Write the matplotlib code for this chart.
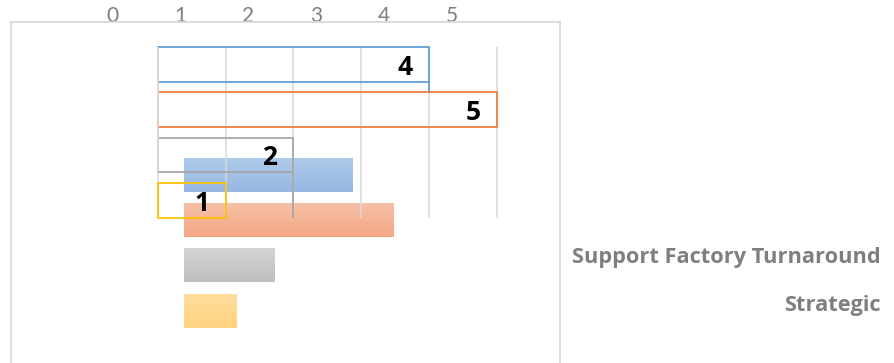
import numpy as np
import matplotlib
matplotlib.use("Agg")
import matplotlib.pyplot as plt
from matplotlib.colors import LinearSegmentedColormap

# ---------------- data ----------------
tick_values = [0, 1, 2, 3, 4, 5]
outline_values = [4, 5, 2, 1]
outline_colors = ["#5b9bd5", "#ed7d31", "#a5a5a5", "#ffc000"]
filled_values = [2.48, 3.09, 1.33, 0.78]
filled_top_colors = ["#aecaeb", "#f6c0a6", "#d4d4d4", "#ffdd9e"]
filled_bottom_colors = ["#96b8e2", "#f4a784", "#bfbfbf", "#ffd27e"]
right_labels = ["Support Factory Turnaround", "Strategic"]

plt.rcParams["font.family"] = ["Lato", "DejaVu Sans"]
BOLD_FONT = ["Open Sans", "DejaVu Sans"]

W, H, DPI = 894, 363, 100
fig = plt.figure(figsize=(W / DPI, H / DPI), dpi=DPI)
fig.patch.set_facecolor("white")


def px_axes(x0, y0, x1, y1):
    return fig.add_axes([x0 / W, 1 - y1 / H, (x1 - x0) / W, (y1 - y0) / H])


UNIT = 67.85  # pixels per value unit
n = len(outline_values)
pos = np.arange(n)
GRID = "#d9d9d9"

# ---------------- filled gradient bar chart (bottom layer) ----------------
h2 = 33.5 / 45.28
ga = px_axes(184, 158.3, 184 + 5 * UNIT, 158.3 + 3 * 45.28 + 33.5)
ga.set_zorder(1)
ga.patch.set_alpha(0)
fbars = ga.barh(pos, filled_values, height=h2, color="none", edgecolor="none")
for i, patch in enumerate(fbars.patches):
    bb = patch.get_bbox()
    cmap = LinearSegmentedColormap.from_list(
        f"g{i}", [filled_top_colors[i], filled_bottom_colors[i]])
    grad = np.linspace(0, 1, 64).reshape(-1, 1)
    ga.imshow(grad, cmap=cmap, aspect="auto", origin="upper",
              extent=(bb.x0, bb.x1, bb.y1, bb.y0), zorder=2)
ga.set_xlim(0, 5)
ga.set_ylim(n - 1 + h2 / 2, -h2 / 2)
ga.set_xticks([])
ga.set_yticks([])
for s in ga.spines.values():
    s.set_visible(False)

# ---------------- frame axes with top tick labels ----------------
fx0, fx1, fzero = 10.5, 560.5, 112.3
fa = px_axes(fx0, 22, fx1, 430)
fa.set_zorder(0)
fa.set_xlim((fx0 - fzero) / UNIT, (fx1 - fzero) / UNIT)
fa.set_ylim(0, 1)
fa.set_xticks(tick_values)
fa.xaxis.tick_top()
fa.tick_params(axis="x", length=0, pad=-3.0, labelsize=15, labelcolor="#7f7f7f")
fa.set_yticks([])
for s in ["top", "left", "right"]:
    fa.spines[s].set_color(GRID)
    fa.spines[s].set_linewidth(1.3)
fa.spines["bottom"].set_visible(False)
fa.patch.set_alpha(0)

# ---------------- outlined bar chart (top layer) ----------------
h = 34.7 / 45.3
ox0, ox1, ozero = 150.0, 505.0, 157.7
oa = px_axes(ox0, 47, ox1, 217.7)
oa.set_zorder(2)
oa.patch.set_alpha(0)
LW = 1.25
bars = oa.barh(pos, outline_values, height=h, fill=False,
               edgecolor=outline_colors, linewidth=LW, clip_on=False, zorder=3)
oa.set_xlim((ox0 - ozero) / UNIT, (ox1 - ozero) / UNIT)
oa.set_ylim(n - 1 + h / 2, -h / 2)
oa.set_xticks(tick_values)
oa.grid(axis="x", color=GRID, linewidth=1.1)
oa.set_axisbelow(True)
oa.tick_params(length=0, labelbottom=False, labelleft=False)
for s in oa.spines.values():
    s.set_visible(False)

# zero gridline drawn over the left edges of the upper three outlined bars
oa.vlines(0, pos[0] - h / 2, pos[2] + h / 2, colors=GRID, linewidth=1.3, zorder=4)

# leader segments continuing the bar right edges downward
oa.vlines(outline_values[0], pos[0] + h / 2, pos[1] - h / 2,
          colors=outline_colors[0], linewidth=LW, zorder=3)
oa.vlines(outline_values[2], pos[2] + h / 2, pos[3] + h / 2,
          colors=outline_colors[2], linewidth=LW, zorder=3)

for v, p in zip(outline_values, pos):
    oa.annotate(str(v), xy=(v, p), xytext=(-17.3, -2.0), textcoords="offset points",
                ha="center", va="center", fontsize=19, fontweight="bold",
                family=BOLD_FONT, color="black", zorder=5)

# ---------------- right-side category labels ----------------
for lbl, ypx in zip(right_labels, [263.3, 311.0]):
    fig.text(881 / W, 1 - ypx / H, lbl, ha="right", va="baseline",
             fontsize=15.7, fontweight="bold", family=BOLD_FONT, color="#7f7f7f")

fig.savefig("out.png", dpi=DPI, facecolor="white")
